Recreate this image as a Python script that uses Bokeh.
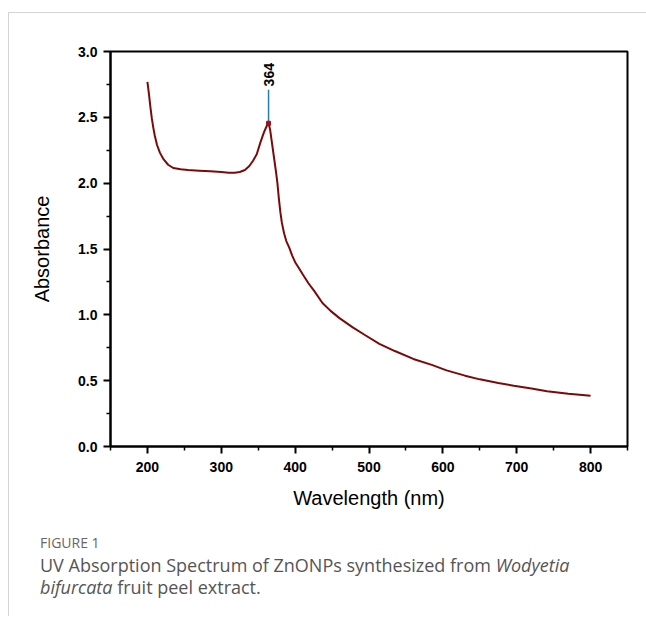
from math import pi

from bokeh.core.properties import value
from bokeh.embed import file_html
from bokeh.layouts import column
from bokeh.models import Div, FixedTicker, PrintfTickFormatter, Range1d
from bokeh.plotting import figure
from bokeh.resources import INLINE

# UV-Vis absorption spectrum of the ZnO nanoparticle suspension
wavelength_nm = [
    200, 202, 204, 206, 208, 210, 213, 217, 222, 228, 235, 245, 255, 270,
    285, 300, 310, 318, 325, 332, 338, 343, 348, 353, 358, 362, 364, 366,
    368, 370, 372, 374, 376, 378, 380, 382, 385, 388, 392, 396, 400, 405,
    410, 418, 426, 437, 448, 460, 478, 495, 514, 535, 560, 585, 605, 630,
    650, 675, 696, 720, 741, 770, 800,
]
absorbance = [
    2.77, 2.68, 2.58, 2.49, 2.42, 2.36, 2.29, 2.23, 2.18, 2.14, 2.115, 2.105,
    2.10, 2.095, 2.09, 2.085, 2.08, 2.08, 2.085, 2.10, 2.13, 2.17, 2.22, 2.31,
    2.39, 2.44, 2.455, 2.41, 2.33, 2.25, 2.17, 2.09, 2.00, 1.88, 1.78, 1.70,
    1.62, 1.56, 1.51, 1.45, 1.40, 1.355, 1.31, 1.24, 1.18, 1.09, 1.03, 0.975,
    0.905, 0.845, 0.78, 0.725, 0.665, 0.62, 0.578, 0.538, 0.51, 0.483, 0.461,
    0.44, 0.42, 0.40, 0.385,
]

peak_wl = 364
peak_abs = 2.455
peak_text = "364"

x_major = [200, 300, 400, 500, 600, 700, 800]
x_minor = [150, 250, 350, 450, 550, 650, 750, 850]
y_major = [0.0, 0.5, 1.0, 1.5, 2.0, 2.5, 3.0]
y_minor = [0.25, 0.75, 1.25, 1.75, 2.25, 2.75]

caption_head = "FIGURE 1"
caption_line1 = "UV Absorption Spectrum of ZnONPs synthesized from"
caption_genus = "Wodyetia"
caption_species = "bifurcata"
caption_line2 = "fruit peel extract."

AX_FONT = "Liberation Sans"
CAP_FONT = "Open Sans"
INNER_W = 637

# ---- chart -----------------------------------------------------------------
p = figure(
    width=INNER_W, height=507,
    x_range=Range1d(150, 850), y_range=Range1d(0, 3.0),
    output_backend="svg", toolbar_location=None,
    min_border_left=101, min_border_right=19,
    min_border_top=38, min_border_bottom=74,
)
p.background_fill_color = "white"
p.border_fill_color = "white"
p.xgrid.visible = False
p.ygrid.visible = False
p.outline_line_color = "black"
p.outline_line_width = 2
p.outline_line_alpha = 1.0

for ax in (p.xaxis[0], p.yaxis[0]):
    ax.axis_line_width = 2
    ax.axis_line_color = "black"
    ax.major_tick_line_width = 2
    ax.minor_tick_line_width = 1.5
    ax.major_tick_in = 0
    ax.major_tick_out = 7
    ax.minor_tick_in = 0
    ax.minor_tick_out = 4
    ax.major_label_text_font = AX_FONT
    ax.major_label_text_font_style = "bold"
    ax.major_label_text_font_size = "14px"
    ax.major_label_text_color = "black"
    ax.axis_label_text_font = AX_FONT
    ax.axis_label_text_font_style = "normal"
    ax.axis_label_text_font_size = "20px"
    ax.axis_label_text_color = "black"

p.xaxis.ticker = FixedTicker(ticks=x_major, minor_ticks=x_minor)
p.yaxis.ticker = FixedTicker(ticks=y_major, minor_ticks=y_minor)
p.yaxis.formatter = PrintfTickFormatter(format="%.1f")
p.xaxis.axis_label = "Wavelength (nm)"
p.yaxis.axis_label = "Absorbance"
p.xaxis.major_label_standoff = 8
p.yaxis.major_label_standoff = 6
p.xaxis.axis_label_standoff = 12
p.yaxis.axis_label_standoff = 22

# spectrum
p.line(wavelength_nm, absorbance, line_color="#7a0a0a", line_width=2)

# peak marker
p.segment(x0=[peak_wl], y0=[peak_abs], x1=[peak_wl], y1=[2.71],
          line_color="#2b7bb9", line_width=1.5)
p.scatter([peak_wl], [peak_abs], marker="square", size=4,
          fill_color="#a0101a", line_color="#a0101a")
p.text(x=[peak_wl], y=[2.735], text=[peak_text], angle=pi / 2,
       text_align="left", text_baseline="middle",
       text_font=value(AX_FONT), text_font_style="bold",
       text_font_size="14px", text_color="black")

# ---- caption ---------------------------------------------------------------
caption_html = (
    f"<div style=\"font-family:'{CAP_FONT}',sans-serif;color:#555555;"
    "padding:14px 0 0 31px;white-space:nowrap;\">"
    "<div style=\"font-size:14px;line-height:17px;color:#666666;\">"
    f"{caption_head}</div>"
    "<div style=\"font-size:18px;line-height:22px;margin-top:3px;\">"
    f"{caption_line1} <i>{caption_genus}</i><br>"
    f"<i>{caption_species}</i> {caption_line2}</div></div>"
)
caption = Div(text=caption_html, width=INNER_W, height=96, margin=(0, 0, 0, 0))

page = column(
    p, caption, spacing=0,
    styles={
        "margin-top": "12px",
        "margin-left": "8px",
        "border-top": "1px solid #d4d4d4",
        "border-left": "1px solid #d4d4d4",
    },
)

open("out.html", "w").write(file_html(page, INLINE))
